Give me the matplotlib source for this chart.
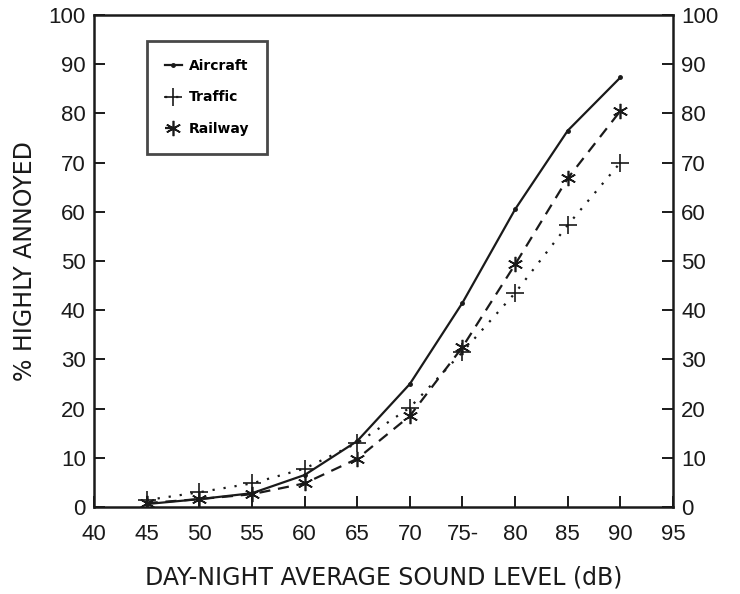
import numpy as np
import matplotlib.pyplot as plt

plt.rcParams['font.family'] = ['Liberation Sans', 'DejaVu Sans']

levels = [45, 50, 55, 60, 65, 70, 75, 80, 85, 90]
aircraft = [0.6, 1.6, 2.8, 6.5, 13.4, 25.0, 41.5, 60.5, 76.5, 87.3]
traffic = [1.4, 3.0, 4.8, 7.8, 13.0, 20.2, 31.5, 43.5, 57.3, 70.0]
railway = [0.8, 1.6, 2.6, 4.8, 9.8, 18.5, 32.5, 49.3, 66.8, 80.5]

x_ticks = [40, 45, 50, 55, 60, 65, 70, 75, 80, 85, 90, 95]
x_tick_labels = ["40", "45", "50", "55", "60", "65", "70", "75-", "80", "85", "90", "95"]
y_ticks = [0, 10, 20, 30, 40, 50, 60, 70, 80, 90, 100]

ASTERISK = (6, 2, 0)

fig = plt.figure(figsize=(7.4, 5.94), dpi=100)
ax = fig.add_axes([94 / 740, 1 - 507 / 594, (673 - 94) / 740, (507 - 15) / 594])

ink = "#1a1a1a"
ax.plot(levels, aircraft, color=ink, lw=1.6, ls="-", marker="o", ms=2.5,
        label="Aircraft")
ax.plot(levels, traffic, color=ink, lw=1.6, ls=(0, (1, 4)), marker="+", ms=13,
        mew=1.2, label="Traffic")
ax.plot(levels, railway, color=ink, lw=1.6, ls=(0, (5, 3.5)), marker=ASTERISK,
        ms=11, mew=1.2, label="Railway")

ax.set_xlim(40, 95)
ax.set_ylim(0, 100)
ax.set_xticks(x_ticks)
ax.set_xticklabels(x_tick_labels)
ax.set_yticks(y_ticks)

ax.tick_params(axis="both", direction="in", length=8, width=1.4, colors=ink,
               labelsize=16)
ax.tick_params(axis="x", pad=12)
ax.tick_params(axis="y", right=True, labelright=True, pad=6)
for s in ax.spines.values():
    s.set_linewidth(1.8)
    s.set_color(ink)

label_font = {"family": "DejaVu Sans", "size": 17, "color": ink}
ax.set_xlabel("DAY-NIGHT AVERAGE SOUND LEVEL (dB)", fontdict=label_font,
              labelpad=15)
ax.set_ylabel("% HIGHLY ANNOYED", fontdict=label_font, labelpad=8)

leg = ax.legend(loc="upper left", bbox_to_anchor=(0.0915, 0.947), frameon=True,
                fancybox=False, edgecolor=ink, handlelength=1.2,
                handletextpad=0.5, labelspacing=1.25, borderpad=1.3,
                borderaxespad=0,
                prop={"family": "DejaVu Sans", "weight": "bold", "size": 10})
leg.get_frame().set_linewidth(2.0)

fig.savefig("out.png", dpi=100)
